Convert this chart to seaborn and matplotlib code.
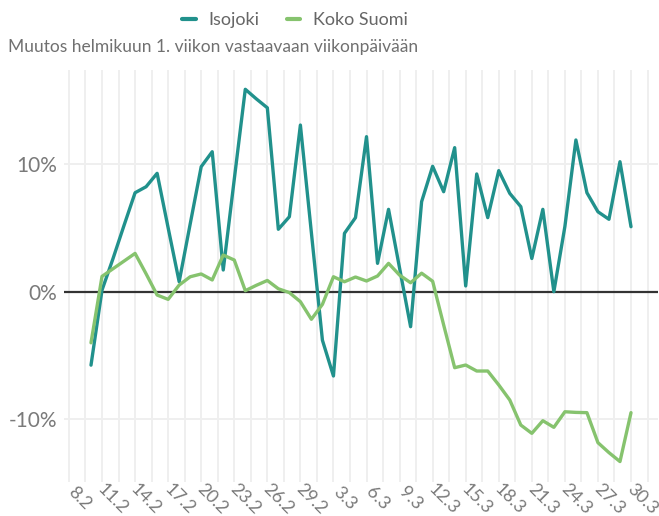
import numpy as np
import pandas as pd
import seaborn as sns
import matplotlib
matplotlib.use("Agg")
import matplotlib.pyplot as plt
from matplotlib.lines import Line2D
from matplotlib.transforms import ScaledTranslation

# ---- data ----
dates = pd.date_range("2020-02-10", "2020-03-30", freq="D")
isojoki = [-5.75, 0.13, 2.6, 5.2, 7.75, 8.22, 9.27, 5.0, 0.78, 5.3,
           9.79, 10.96, 1.7, 8.8, 15.85, 15.1, 14.4, 4.89, 5.87, 13.05,
           4.6, -3.8, -6.6, 4.57, 5.8, 12.14, 2.22, 6.45, 1.85, -2.74,
           7.05, 9.82, 7.83, 11.28, 0.45, 9.22, 5.8, 9.48, 7.7, 6.66,
           2.6, 6.45, 0.0, 5.1, 11.88, 7.75, 6.26, 5.67, 10.18, 5.09]
koko_suomi = [-4.0, 1.2, 1.8, 2.4, 3.0, 1.4, -0.26, -0.6, 0.52, 1.17,
              1.39, 0.92, 2.87, 2.48, 0.08, 0.5, 0.88, 0.23, -0.07, -0.78,
              -2.16, -0.99, 1.17, 0.78, 1.15, 0.84, 1.23, 2.22, 1.3, 0.7,
              1.45, 0.82, -2.6, -5.95, -5.74, -6.21, -6.21, -7.3, -8.48, -10.44,
              -11.09, -10.1, -10.62, -9.4, -9.45, -9.47, -11.82, -12.6, -13.3, -9.47]
series_names = ["Isojoki", "Koko Suomi"]
colors = ["#21918c", "#86c36e"]
tick_dates = pd.date_range("2020-02-08", "2020-03-30", freq="3D")
tick_labels = ["8.2", "11.2", "14.2", "17.2", "20.2", "23.2", "26.2", "29.2", "3.3",
               "6.3", "9.3", "12.3", "15.3", "18.3", "21.3", "24.3", "27.3", "30.3"]
y_ticks = [-10, 0, 10]
y_tick_labels = ["-10%", "0%", "10%"]
subtitle = "Muutos helmikuun 1. viikon vastaavaan viikonpäivään"

df = pd.DataFrame({
    "pvm": list(dates) * 2,
    "muutos": isojoki + koko_suomi,
    "alue": [series_names[0]] * len(dates) + [series_names[1]] * len(dates),
})

sns.set_theme(style="white")
plt.rcParams["font.family"] = ["Lato", "DejaVu Sans"]

W, H = 659, 516
fig = plt.figure(figsize=(W / 100, H / 100), dpi=100)
ax = fig.add_axes([64 / W, 1 - 482 / H, (658 - 64) / W, (482 - 70) / H])

grid_col = "#efefef"
minor_dates = tick_dates + pd.Timedelta(hours=36)
for d in list(tick_dates) + list(minor_dates):
    ax.axvline(d, color=grid_col, lw=1.4, zorder=0)
for yv in y_ticks:
    ax.axhline(yv, color=grid_col, lw=1.4, zorder=0)
ax.axhline(0, color="#333333", lw=1.6, zorder=1)

sns.lineplot(data=df, x="pvm", y="muutos", hue="alue", palette=colors,
             linewidth=2.4, ax=ax, legend=False, zorder=3)

x0 = dates[0] - pd.Timedelta(days=2.45)
x1 = dates[-1] + pd.Timedelta(days=2.45)
ax.set_xlim(x0, x1)
ax.set_ylim(-14.9, 17.36)

ax.set_xticks(tick_dates)
ax.set_xticklabels(tick_labels, rotation=-45, ha="center", va="center",
                   rotation_mode="anchor", color="#7a7a7a", fontsize=13)
ax.set_yticks(y_ticks)
ax.set_yticklabels(y_tick_labels, color="#7a7a7a", fontsize=15)
ax.tick_params(axis="both", length=0)
ax.tick_params(axis="x", pad=12)
ax.tick_params(axis="y", pad=5)
shift = ScaledTranslation(11 / 100, 0, fig.dpi_scale_trans)
for lab in ax.get_xticklabels():
    lab.set_transform(lab.get_transform() + shift)
ax.set_xlabel("")
ax.set_ylabel("")
for s in ax.spines.values():
    s.set_visible(False)

handles = [Line2D([0], [0], color=c, lw=3) for c in colors]
fig.legend(handles, series_names, loc="center", ncol=2,
           bbox_to_anchor=(295 / W, 1 - 20 / H), frameon=False,
           handlelength=0.75, columnspacing=1.5, handletextpad=0.7,
           prop={"size": 13}, labelcolor="#666666")

fig.text(8 / W, 1 - 47 / H, subtitle, ha="left", va="center",
         fontsize=12.5, color="#707070")

fig.savefig("out.png", dpi=100)
